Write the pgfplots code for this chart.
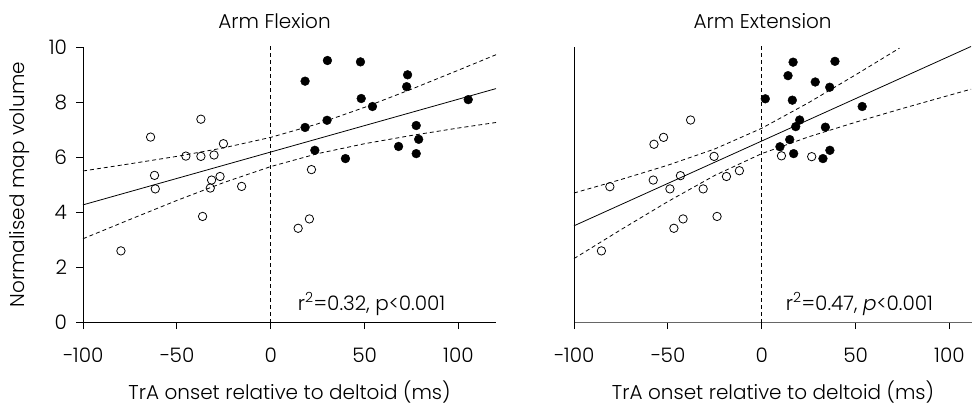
\documentclass[border=0pt]{standalone}
\usepackage{fontspec}
\setmainfont{Poppins}[UprightFont={* Light}, ItalicFont={* Light Italic}]
\usepackage{pgfplots}
\pgfplotsset{compat=1.18}

\pgfplotsset{
  panel/.style={
    scale only axis,
    height=275.5bp,
    ymin=0, ymax=10,
    axis x line*=bottom,
    axis y line*=left,
    axis line style={-, line width=0.9pt},
    tick align=outside,
    major tick length=6.5bp,
    tick style={black, line width=0.9pt},
    xtick={-100,-50,0,50,100},
    xticklabels={−100,−50,0,50,100},
    clip=false,
    font=\fontsize{20bp}{23bp}\selectfont,
    /pgf/number format/assume math mode=true,
    xticklabel style={anchor=base, yshift=-33bp},
    yticklabel style={xshift=-6bp},
    xlabel={TrA onset relative to deltoid (ms)},
    xlabel style={at={(axis description cs:0.5,0)}, anchor=base, yshift=-76.5bp},
  },
  band/.style={black, line width=0.8pt, dash pattern=on 4bp off 3bp},
  fit/.style={black, line width=0.8pt},
  open/.style={only marks, mark=o, mark size=4.2bp, mark options={black, line width=0.8pt}},
  full/.style={only marks, mark=*, mark size=4.4bp, mark options={black, fill=black}},
}

\begin{document}
\begin{tikzpicture}
\path[use as bounding box] (0,0) rectangle (975bp,-405bp);

% Arm Flexion
\begin{axis}[panel,
    at={(83bp,-322.5bp)}, anchor=south west,
    width=413bp,
    xmin=-100, xmax=120,
    ytick={0,2,4,6,8,10},
    ylabel={Normalised map volume},
    ylabel style={at={(axis description cs:-0.153,0.5)}, anchor=center},
  ]
  \addplot[band] coordinates {(-100,5.50) (-75,5.76) (-50,6.03) (-25,6.34) (0,6.72) (25,7.21) (50,7.81) (75,8.47) (100,9.16) (120,9.72)};
  \addplot[band] coordinates {(-100,3.04) (-75,3.74) (-50,4.43) (-25,5.08) (0,5.66) (25,6.13) (50,6.49) (75,6.79) (100,7.06) (120,7.26)};
  \addplot[fit] coordinates {(-100,4.27) (120,8.49)};
  \addplot[band] coordinates {(0,0) (0,10.16)};
  \addplot[open] table {
    -64 6.73
    -37.2 7.38
    -25.2 6.49
    -45.2 6.04
    -37.2 6.03
    -30.2 6.08
    -61.9 5.34
    -61.5 4.85
    -31.5 5.17
    -27 5.30
    -32.2 4.88
    -15.5 4.94
    21.7 5.55
    -36.3 3.85
    -79.8 2.60
    14.6 3.42
    20.6 3.76
  };
  \addplot[full] table {
    18.3 8.76
    30.2 9.51
    47.8 9.46
    72.9 8.99
    72.4 8.56
    48.2 8.13
    54.2 7.84
    105.2 8.09
    18.3 7.08
    30.0 7.34
    77.5 7.15
    78.8 6.65
    68.1 6.39
    77.5 6.13
    23.5 6.25
    39.8 5.95
  };
  \node[anchor=base] at (axis cs:2,10.67) {Arm Flexion};
  \node[anchor=base west, inner sep=0pt] at (axis cs:14.4,0.45) {r\textsuperscript{2}=0.32, p<0.001};
\end{axis}

% Arm Extension
\begin{axis}[panel,
    at={(574bp,-322.5bp)}, anchor=south west,
    width=398bp,
    xmin=-100, xmax=112,
    ytick=\empty,
    x axis line style={black!60, line width=1.5pt},
  ]
  \addplot[band] coordinates {(-100,4.70) (-75,5.19) (-50,5.71) (-25,6.30) (0,7.05) (25,7.98) (50,8.99) (73.4,9.96)};
  \addplot[band] coordinates {(-100,2.32) (-75,3.37) (-50,4.39) (-25,5.34) (0,6.13) (25,6.74) (50,7.27) (75,7.77) (100,8.25) (111.5,8.47)};
  \addplot[fit] coordinates {(-100,3.51) (111.5,10.02)};
  \addplot[band] coordinates {(0,0) (0,10.03)};
  \addplot[open] table {
    -37.9 7.35
    -52.3 6.72
    -57.4 6.47
    -25.4 6.03
    10.5 6.05
    26.6 6.02
    -80.9 4.93
    -57.8 5.17
    -43.3 5.33
    -48.9 4.85
    -31.2 4.85
    -18.8 5.30
    -11.9 5.51
    -41.9 3.76
    -46.8 3.42
    -23.8 3.85
    -85.4 2.60
  };
  \addplot[full] table {
    16.7 9.45
    39.0 9.48
    14.0 8.96
    28.5 8.73
    36.2 8.54
    1.9 8.12
    16.3 8.07
    53.5 7.84
    20.2 7.35
    18.1 7.11
    33.9 7.09
    14.9 6.64
    9.7 6.38
    17.0 6.13
    36.3 6.25
    32.6 5.95
  };
  \node[anchor=base] at (axis cs:0.5,10.67) {Arm Extension};
  \node[anchor=base west, inner sep=0pt] at (axis cs:12.8,0.45) {r\textsuperscript{2}=0.47, \textit{p}<0.001};
\end{axis}
\end{tikzpicture}
\end{document}
